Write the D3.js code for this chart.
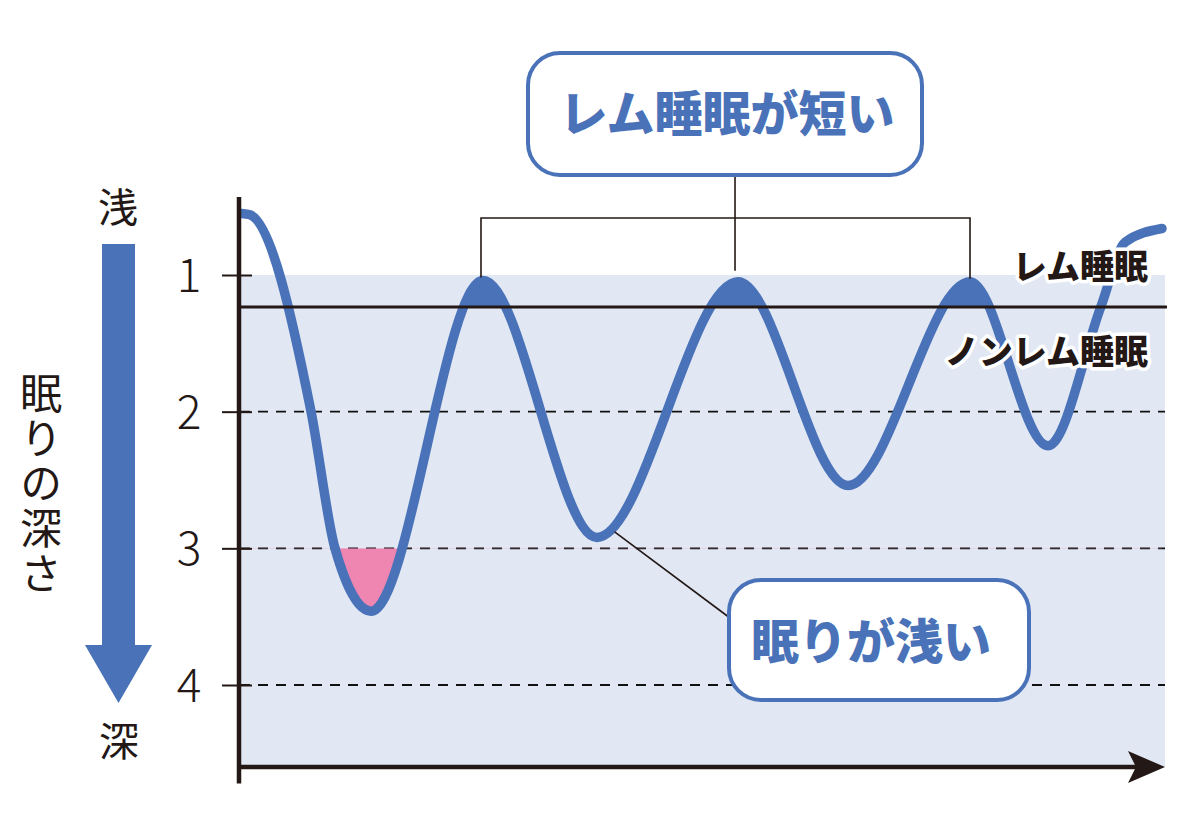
<!DOCTYPE html>
<html><head><meta charset="utf-8">
<script src="https://cdn.jsdelivr.net/npm/d3@7"></script>
<style>
html,body{margin:0;padding:0;background:#fff;}
svg{display:block;}
text{font-family:"Noto Sans CJK JP","Noto Sans",sans-serif;}
</style></head>
<body>
<svg id="chart" width="1200" height="840"></svg>
<script>
// ---- data ----
const timePoints  = [0.2, 1.08, 7.68, 10.27, 14.16, 26.27, 38.59, 53.84, 65.73, 78.92, 87.35, 93.08, 95.68, 99.68];
const depthValues = [0.55, 0.56, 2.0, 3.0, 3.46, 1.04, 2.92, 1.05, 2.54, 1.05, 2.25, 1.23, 0.76, 0.66];
const remPeakTimes = [26.27, 53.84, 78.92];
const tickValues = [1, 2, 3, 4];
const tickLabels = ["1", "2", "3", "4"];
const remBoundary = 1.235;
const deepThreshold = 3;
const yAxisTop = 0.43, xAxisDepth = 4.6, yAxisBottom = 4.72;
const titleText = "眠りの深さ";
const labelShallow = "浅", labelDeep = "深";
const labelRem = "レム睡眠", labelNonRem = "ノンレム睡眠";
const calloutTop = "レム睡眠が短い", calloutBottom = "眠りが浅い";
const leaderTime = 40.5, leaderDepth = 2.88;

const BLUE = "#4a72b8", BG = "#e1e7f3", PINK = "#ef86b1", INK = "#231815";
const data = timePoints.map((t, i) => ({t, d: depthValues[i]}));

const svg = d3.select("#chart");
const x = d3.scaleLinear().domain([0, 100]).range([240, 1165]);
const y = d3.scaleLinear().domain([1, 4]).range([275, 685]);
const x0 = x(0), x1 = x(100);

// background band
svg.append("rect").attr("x", x0).attr("y", y(1)).attr("width", x1 - x0).attr("height", y(xAxisDepth) - y(1)).attr("fill", BG);

// dashed grid
svg.append("g").selectAll("line").data(tickValues.filter(v => v > 1)).join("line")
  .attr("x1", x0).attr("x2", x1).attr("y1", d => y(d)).attr("y2", d => y(d))
  .attr("stroke", "#111").attr("stroke-width", 1.8).attr("stroke-dasharray", "10,8");

// clips
const defs = svg.append("defs");
const pad = 6;
defs.append("clipPath").attr("id", "remClip").append("rect")
  .attr("x", x(remPeakTimes[0] - pad)).attr("y", 0)
  .attr("width", x(remPeakTimes[remPeakTimes.length - 1] + pad) - x(remPeakTimes[0] - pad))
  .attr("height", y(remBoundary));
defs.append("clipPath").attr("id", "deepClip").append("rect")
  .attr("x", x0).attr("y", y(deepThreshold)).attr("width", x1 - x0).attr("height", 400);

const curve = d3.curveMonotoneX;
const line = d3.line().x(d => x(d.t)).y(d => y(d.d)).curve(curve);

svg.append("path").datum(data).attr("clip-path", "url(#remClip)")
  .attr("d", d3.area().x(d => x(d.t)).y0(y(remBoundary)).y1(d => y(d.d)).curve(curve))
  .attr("fill", BLUE);
svg.append("path").datum(data).attr("clip-path", "url(#deepClip)")
  .attr("d", d3.area().x(d => x(d.t)).y0(y(deepThreshold)).y1(d => y(d.d)).curve(curve))
  .attr("fill", PINK);

// main curve
svg.append("path").datum(data).attr("d", line)
  .attr("fill", "none").attr("stroke", BLUE).attr("stroke-width", 9.5).attr("stroke-linecap", "round");

// REM / NREM boundary line
svg.append("line").attr("x1", x0).attr("x2", x1 + 2).attr("y1", y(remBoundary)).attr("y2", y(remBoundary))
  .attr("stroke", INK).attr("stroke-width", 3);

// y axis
const yAxis = d3.axisLeft(y).tickValues(tickValues).tickFormat((d, i) => tickLabels[i]).tickSize(18);
const gy = svg.append("g").attr("transform", `translate(${x0},0)`).call(yAxis);
gy.select(".domain").remove();
gy.selectAll(".tick line").attr("x1", 12).attr("stroke", INK).attr("stroke-width", 2);
gy.selectAll(".tick text").attr("x", -51).attr("text-anchor", "middle").attr("dy", "0.36em")
  .attr("font-size", 46).attr("font-weight", 300).attr("fill", INK)
  .attr("font-family", "'Noto Sans CJK JP', 'Noto Sans', sans-serif");
svg.append("line").attr("x1", x0 - 1).attr("x2", x0 - 1).attr("y1", y(yAxisTop)).attr("y2", y(yAxisBottom))
  .attr("stroke", INK).attr("stroke-width", 4.5);

// x axis with arrow
const xa = y(xAxisDepth);
svg.append("line").attr("x1", x0 - 3).attr("x2", x1 - 20).attr("y1", xa).attr("y2", xa)
  .attr("stroke", INK).attr("stroke-width", 4.5);
svg.append("path").attr("d", `M${x1 - 37},${xa - 16} L${x1},${xa} L${x1 - 37},${xa + 16} L${x1 - 29},${xa} Z`).attr("fill", INK);

// left depth arrow
svg.append("rect").attr("x", 102).attr("y", 244).attr("width", 33).attr("height", 402).attr("fill", BLUE);
svg.append("path").attr("d", "M85,645 L152,645 L118.5,703 Z").attr("fill", BLUE);
svg.append("text").attr("x", 118).attr("y", 208).attr("dy", "0.36em").attr("text-anchor", "middle")
  .attr("font-size", 40).attr("fill", INK).text(labelShallow);
svg.append("text").attr("x", 119).attr("y", 742).attr("dy", "0.36em").attr("text-anchor", "middle")
  .attr("font-size", 40).attr("fill", INK).text(labelDeep);

// vertical title
svg.append("text").attr("x", 41).attr("y", 372)
  .style("writing-mode", "vertical-rl").style("text-orientation", "upright")
  .attr("letter-spacing", 3)
  .attr("font-size", 42).attr("fill", INK).text(titleText);

// bracket
const peakY = remPeakTimes.map(t => y(depthValues[timePoints.indexOf(t)]) - 3);
const bY = 218;
const bracket = svg.append("g").attr("stroke", INK).attr("stroke-width", 1.6).attr("fill", "none");
bracket.append("path").attr("d",
  `M${x(remPeakTimes[0]) - 2},${peakY[0]} V${bY} H${x(remPeakTimes[2])} V${peakY[2]}`);
bracket.append("line").attr("x1", x(remPeakTimes[1]) - 3).attr("x2", x(remPeakTimes[1]) - 3)
  .attr("y1", 175).attr("y2", peakY[1] - 8);

// leader to bottom callout
svg.append("line").attr("x1", x(leaderTime)).attr("y1", y(leaderDepth)).attr("x2", 730).attr("y2", 618)
  .attr("stroke", INK).attr("stroke-width", 1.6);

// labels with halo
[[labelRem, 267], [labelNonRem, 352]].forEach(([t, cy]) => {
  svg.append("text").attr("x", 1148).attr("y", cy).attr("dy", "0.36em").attr("text-anchor", "end")
    .attr("font-size", 34).attr("font-weight", 900).attr("fill", INK)
    .attr("stroke", "#fff").attr("stroke-width", 7).attr("stroke-linejoin", "round")
    .attr("paint-order", "stroke").text(t);
});

// callouts
function callout(bx, by, bw, bh, txt, cx, cy) {
  svg.append("rect").attr("x", bx).attr("y", by).attr("width", bw).attr("height", bh)
    .attr("rx", 32).attr("fill", "#fff").attr("stroke", BLUE).attr("stroke-width", 4);
  svg.append("text").attr("x", cx).attr("y", cy).attr("dy", "0.36em").attr("text-anchor", "middle")
    .attr("font-size", 48).attr("font-weight", 900).attr("fill", BLUE).text(txt);
}
callout(528, 53, 394, 122, calloutTop, 727, 114);
callout(729, 580, 300, 120, calloutBottom, 871, 642);
</script>
</body></html>
